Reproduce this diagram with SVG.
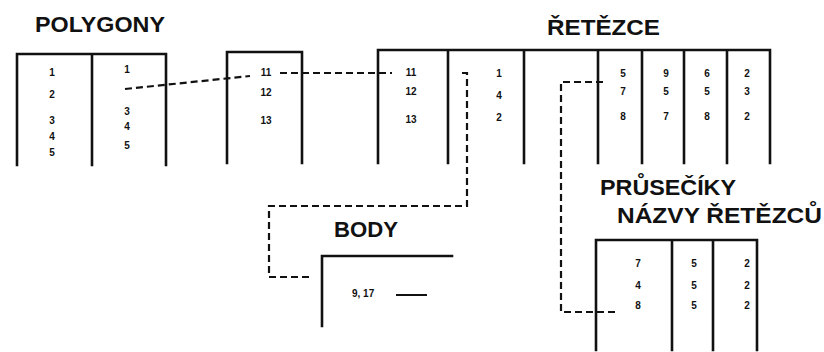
<svg xmlns="http://www.w3.org/2000/svg" width="824" height="352" viewBox="0 0 824 352">
<style>
.t{fill:none;stroke:#111;stroke-width:2.6;stroke-linecap:square}
.c{fill:none;stroke:#111;stroke-width:2.2;stroke-dasharray:7 4}
.h{font-family:"Liberation Sans",Arial,sans-serif;font-weight:bold;font-size:22px;fill:#111}
.d{font-family:"Liberation Sans",Arial,sans-serif;font-weight:bold;font-size:10px;fill:#111;text-anchor:middle;dominant-baseline:central}
</style>
<rect width="824" height="352" fill="#fff"/>

<g id="polygony">
<text class="h" x="35" y="32" textLength="130" lengthAdjust="spacingAndGlyphs">POLYGONY</text>
<path class="t" d="M17,165 V54 H166 V165 M92,54 V165"/>
<text class="d" x="52" y="72">1</text>
<text class="d" x="52" y="94">2</text>
<text class="d" x="52" y="120">3</text>
<text class="d" x="52" y="136">4</text>
<text class="d" x="52" y="152">5</text>
<text class="d" x="127" y="69">1</text>
<text class="d" x="127" y="111">3</text>
<text class="d" x="127" y="126">4</text>
<text class="d" x="127" y="145">5</text>
</g>

<g id="seznam">
<path class="t" d="M227,163 V52 H302 V163"/>
<text class="d" x="266" y="72">11</text>
<text class="d" x="266" y="92">12</text>
<text class="d" x="266" y="120">13</text>
</g>

<g id="retezce">
<text class="h" x="547" y="35" textLength="113" lengthAdjust="spacingAndGlyphs">ŘETĚZCE</text>
<path class="t" d="M378,163 V50 H770 V163 M448,50 V163 M524,50 V163 M598,50 V163 M642,50 V163 M684,50 V163 M727,50 V163"/>
<text class="d" x="411" y="72">11</text>
<text class="d" x="411" y="91">12</text>
<text class="d" x="411" y="119">13</text>
<text class="d" x="499" y="73">1</text>
<text class="d" x="499" y="95">4</text>
<text class="d" x="499" y="117">2</text>
<text class="d" x="623" y="73">5</text>
<text class="d" x="623" y="91">7</text>
<text class="d" x="623" y="116">8</text>
<text class="d" x="666" y="73">9</text>
<text class="d" x="666" y="91">5</text>
<text class="d" x="666" y="116">7</text>
<text class="d" x="707" y="73">6</text>
<text class="d" x="707" y="91">5</text>
<text class="d" x="707" y="116">8</text>
<text class="d" x="747" y="73">2</text>
<text class="d" x="747" y="91">3</text>
<text class="d" x="747" y="116">2</text>
</g>

<g id="body">
<text class="h" x="334" y="237" textLength="64" lengthAdjust="spacingAndGlyphs">BODY</text>
<path class="t" d="M322,326 V256 H452"/>
<text class="d" x="352" y="293" style="text-anchor:start">9, 17</text>
<path d="M396,295 H427" stroke="#111" stroke-width="2"/>
</g>

<g id="pruseciky">
<text class="h" x="600" y="195" textLength="136" lengthAdjust="spacingAndGlyphs">PRŮSEČÍKY</text>
<text class="h" x="617" y="223" textLength="205" lengthAdjust="spacingAndGlyphs">NÁZVY ŘETĚZCŮ</text>
<path class="t" d="M596,350 V240 H757 V350 M672,240 V350 M713,240 V350"/>
<text class="d" x="638" y="263">7</text>
<text class="d" x="638" y="285">4</text>
<text class="d" x="638" y="305">8</text>
<text class="d" x="694" y="263">5</text>
<text class="d" x="694" y="285">5</text>
<text class="d" x="694" y="305">5</text>
<text class="d" x="747" y="263">2</text>
<text class="d" x="747" y="285">2</text>
<text class="d" x="747" y="305">2</text>
</g>

<g id="connectors">
<path class="c" d="M125,89 L250,76"/>
<path class="c" d="M280,73 H392"/>
<path class="c" d="M462,73 H467 V206 H269 V277 H310"/>
<path class="c" d="M603,82 H561 V312 H617"/>
</g>
</svg>
